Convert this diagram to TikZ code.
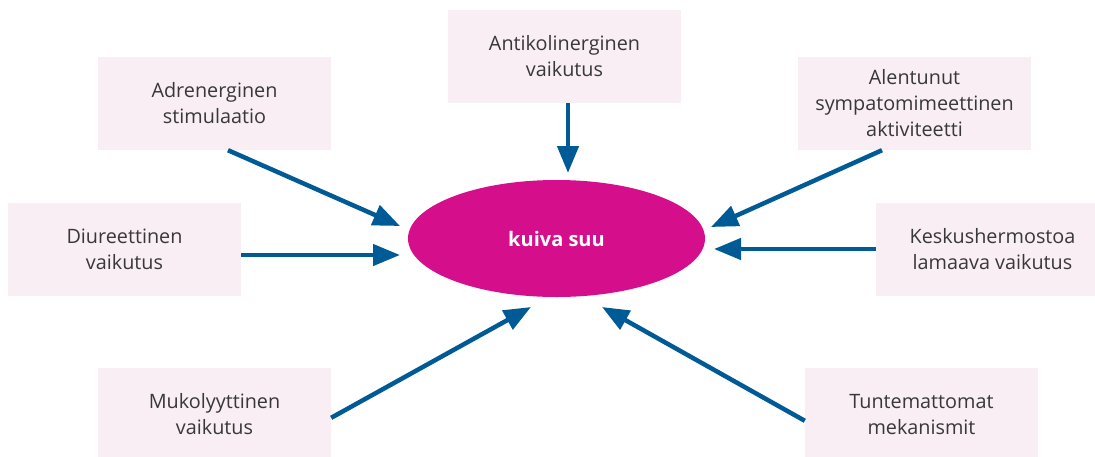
\documentclass[tikz,border=0pt]{standalone}
\usepackage{fontspec}
\setmainfont{Open Sans}
\usetikzlibrary{arrows.meta,shapes.geometric}
\definecolor{boxpink}{HTML}{F8EEF4}
\definecolor{arrowblue}{HTML}{005A96}
\definecolor{magenta}{HTML}{D50F8C}
\definecolor{txtgray}{HTML}{383838}
\tikzset{
  causebox/.style={rectangle, fill=boxpink, minimum width=233pt, minimum height=93pt,
    inner sep=0pt, align=center, text=txtgray, font=\fontsize{19.8}{26}\selectfont},
  flow/.style={draw=arrowblue, line width=4.5pt, -{Triangle[length=27pt,width=21pt]}},
}
\begin{document}
\begin{tikzpicture}[x=1pt,y=-1pt]
\useasboundingbox (0,0) rectangle (1095,456);
\begin{scope}
\clip (0,0) rectangle (1095,456);
\node[causebox] (A) at (214.5,103.5) {Adrenerginen\\stimulaatio};
\node[causebox] (B) at (564.5,56.5) {Antikolinerginen\\vaikutus};
\node[causebox] (C) at (914.5,103.5) {Alentunut\\sympatomimeettinen\\aktiviteetti};
\node[causebox] (D) at (124.5,249) {Diureettinen\\vaikutus};
\node[causebox] (E) at (992.5,249) {Keskushermostoa\\lamaava vaikutus};
\node[causebox] (F) at (214.5,414.5) {Mukolyyttinen\\vaikutus};
\node[causebox] (G) at (921.5,414.5) {Tuntemattomat\\mekanismit};
\end{scope}
\node[ellipse, fill=magenta, minimum width=297pt, minimum height=117pt, inner sep=0pt,
  text=white, font=\bfseries\fontsize{20}{24}\selectfont] (K) at (556.5,238.5) {kuiva suu};
\coordinate (tA) at (400,226);
\coordinate (tB) at (568,173);
\coordinate (tC) at (711,227);
\coordinate (tD) at (400,255);
\coordinate (tE) at (714,249);
\coordinate (tF) at (531,307);
\coordinate (tG) at (602,307);
\draw[flow] ([xshift=13.5pt]A.south) -- (tA);
\draw[flow] ([xshift=3.5pt]B.south) -- (tB);
\draw[flow] ([xshift=-32.5pt]C.south) -- (tC);
\draw[flow] ([yshift=-6pt]D.east) -- (tD);
\draw[flow] ([yshift=0pt]E.west) -- (tE);
\draw[flow] ([yshift=-50pt]F.north east) -- (tF);
\draw[flow] ([yshift=-53pt]G.north west) -- (tG);
\end{tikzpicture}
\end{document}
